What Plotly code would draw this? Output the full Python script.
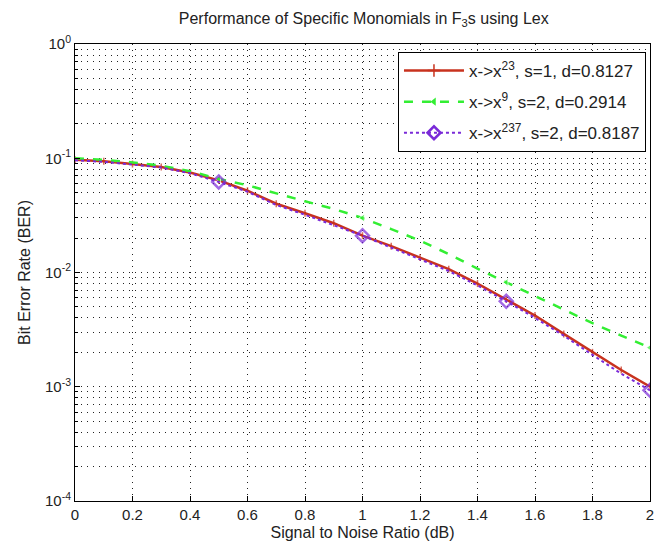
import plotly.graph_objects as go

snr = [0.0, 0.1, 0.2, 0.3, 0.4, 0.5, 0.6, 0.7, 0.8, 0.9, 1.0,
       1.1, 1.2, 1.3, 1.4, 1.5, 1.6, 1.7, 1.8, 1.9, 2.0]

ber_x23 = [0.097, 0.094, 0.089, 0.084, 0.075, 0.064, 0.052, 0.040, 0.033, 0.027, 0.021,
           0.017, 0.0135, 0.0107, 0.0080, 0.0058, 0.0042, 0.0029, 0.0020, 0.0014, 0.00100]
ber_x9 = [0.100, 0.097, 0.092, 0.086, 0.077, 0.066, 0.058, 0.049, 0.042, 0.036, 0.030,
          0.024, 0.019, 0.0145, 0.0108, 0.0082, 0.0062, 0.0047, 0.0036, 0.0028, 0.0022]
ber_x237 = [0.096, 0.093, 0.088, 0.083, 0.074, 0.062, 0.051, 0.039, 0.032, 0.026, 0.021,
            0.0165, 0.0131, 0.0103, 0.0077, 0.0056, 0.0040, 0.0028, 0.0019, 0.0013, 0.00093]

names = ["x->x<sup>23</sup>, s=1, d=0.8127",
         "x->x<sup>9</sup>, s=2, d=0.2914",
         "x->x<sup>237</sup>, s=2, d=0.8187"]

x_ticks = [0, 0.2, 0.4, 0.6, 0.8, 1, 1.2, 1.4, 1.6, 1.8, 2]
x_labels = ["0", "0.2", "0.4", "0.6", "0.8", "1", "1.2", "1.4", "1.6", "1.8", "2"]
y_ticks = [1e-4, 1e-3, 1e-2, 1e-1, 1]
y_labels = ["10<sup>-4</sup>", "10<sup>-3</sup>", "10<sup>-2</sup>", "10<sup>-1</sup>", "10<sup>0</sup>"]

red = "#c8321e"
green = "#33ee33"
purple = "#7a2ad8"
FONT = "Liberation Sans, Arial"

sparse = [10 if (i % 5 == 0 and i > 0) else 0 for i in range(len(snr))]

styles = [
    dict(line=dict(color=red, width=2.5),
         marker=dict(symbol="cross-thin-open", size=9, color=red, line=dict(color=red, width=1.5))),
    dict(line=dict(color=green, width=2.5, dash="dash"),
         marker=dict(symbol="triangle-left", size=7, color=green)),
    dict(line=dict(color=purple, width=2, dash="dot"),
         marker=dict(symbol="diamond-open", size=10, color=purple, line=dict(color=purple, width=2.5))),
]
series = [ber_x23, ber_x9, ber_x237]
marker_sizes = [[5] * len(snr), [s * 0.7 for s in sparse], sparse]
marker_symbols = ["line-ns", "triangle-left", "diamond-open"]

fig = go.Figure()
for k in range(3):
    st = styles[k]
    mk = dict(st["marker"])
    mk["size"] = marker_sizes[k]
    mk["symbol"] = marker_symbols[k]
    fig.add_trace(go.Scatter(x=snr, y=series[k], mode="lines+markers", showlegend=False,
                             line=st["line"], marker=mk))
# legend-only entries
for k in range(3):
    st = styles[k]
    fig.add_trace(go.Scatter(x=[None], y=[None], mode="lines+markers", name=names[k],
                             legendgroup=str(k), line=st["line"], marker=st["marker"]))

grid_dash = "1px,5px"
axis_common = dict(showline=True, linecolor="black", linewidth=1, mirror=True,
                   ticks="inside", tickcolor="black", ticklen=5,
                   showgrid=True, gridcolor="#222222", griddash=grid_dash, gridwidth=1,
                   zeroline=False,
                   tickfont=dict(family=FONT, size=15, color="#222"),
                   title_font=dict(family=FONT, size=16, color="#222"))

fig.update_xaxes(range=[0, 2], tickvals=x_ticks, ticktext=x_labels,
                 title_text="Signal to Noise Ratio (dB)", title_standoff=4,
                 **axis_common)
fig.update_yaxes(type="log", range=[-4, 0], tickvals=y_ticks, ticktext=y_labels,
                 title_text="Bit Error Rate (BER)", title_standoff=10,
                 minor=dict(ticks="inside", ticklen=3, tickcolor="black",
                            showgrid=True, gridcolor="#222222", griddash=grid_dash,
                            dtick="D1"),
                 **axis_common)

fig.update_layout(
    width=659, height=556,
    margin=dict(l=75, r=5, t=44, b=55),
    paper_bgcolor="white", plot_bgcolor="white",
    title=dict(text="Performance of Specific Monomials in F<sub>3</sub>s using Lex",
               x=0.552, xanchor="center", xref="container",
               y=1 - 18 / 556, yref="container", yanchor="middle",
               font=dict(family=FONT, size=16, color="#222")),
    legend=dict(x=0.993, y=0.9825, xanchor="right", yanchor="top",
                bgcolor="white", bordercolor="black", borderwidth=1,
                font=dict(family=FONT, size=17, color="#222"),
                itemwidth=60, tracegroupgap=6),
    showlegend=True,
)

fig.write_html("out.html")
